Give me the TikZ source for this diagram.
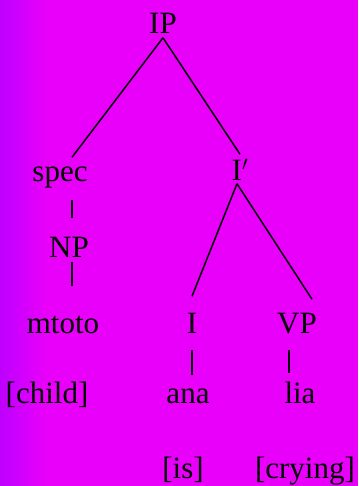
\documentclass[tikz,border=0pt]{standalone}
\usepackage{fontspec}
\setmainfont{Liberation Serif}
\usetikzlibrary{positioning}
\definecolor{bgmag}{RGB}{232,0,250}
\definecolor{bgpur}{RGB}{190,0,255}
\tikzset{every picture/.style={line width=1.5pt}}
\tikzset{lbl/.style={anchor=base,inner sep=0pt,font=\fontsize{31}{31}\selectfont,text height=22pt,text depth=0pt}}

\begin{document}
\begin{tikzpicture}[x=1pt,y=-1pt]
% background
\fill[bgmag] (0,0) rectangle (358,486);
\shade[left color=bgpur,right color=bgmag] (0,0) rectangle (45,486);
\useasboundingbox (0,0) rectangle (358,486);
%
\node[lbl] (IP) at (163,34) {IP};
\node[lbl] (spec) at (60,182) {spec};
\node[lbl] (Ibar) at (240,180) {I$'$};
\node[lbl] (NP) at (69,257) {NP};
\node[lbl] (mtoto) at (63,333) {mtoto};
\node[lbl] (I) at (192,333) {I};
\node[lbl] (VP) at (297,333) {VP};
\node[lbl] (child) at (47,403) {[child]};
\node[lbl] (ana) at (188,403) {ana};
\node[lbl] (lia) at (300,403) {lia};
\node[lbl] (is) at (183,478) {[is]};
\node[lbl] (crying) at (305,478) {[crying]};
%
\draw ([yshift=-3pt]IP.south) -- ([xshift=12pt,yshift=2pt]spec.north);
\draw ([yshift=-3pt]IP.south) -- ([yshift=3pt]Ibar.north);
\draw ([xshift=-3pt,yshift=-3pt]Ibar.south) -- ([yshift=14pt]I.north);
\draw ([xshift=-3pt,yshift=-3pt]Ibar.south) -- ([xshift=15pt,yshift=11pt]VP.north);
%
\foreach \Source/\Target/\Dx/\Dy/\Da/\Db in {%
	spec/NP/12/3/18/39,
	NP/mtoto/3/9/5/47,
	I/ana/0/4/17/28,
	VP/lia/-8/-11/17/30%
    }
\draw ([xshift=\Dx pt,yshift=-\Da pt]\Source.base) to ([xshift=\Dy pt,yshift=\Db pt]\Target.base);
\end{tikzpicture}
\end{document}
